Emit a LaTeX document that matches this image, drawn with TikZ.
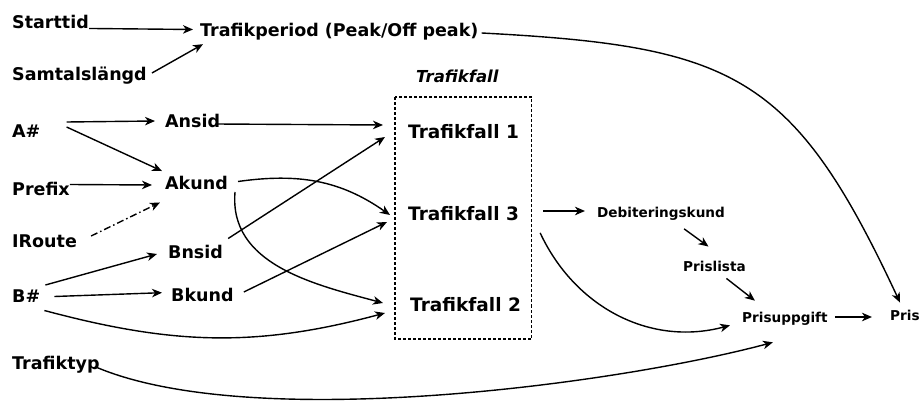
\documentclass[tikz,border=0pt]{standalone}
\usepackage{fontspec}
\setmainfont{DejaVu Sans}
\usetikzlibrary{arrows.meta}

\begin{document}
\begin{tikzpicture}[x=1pt, y=1pt,
          every node/.style={inner sep=0pt, anchor=west, font=\bfseries\fontsize{17.5}{21}\selectfont},
          big/.style={font=\bfseries\fontsize{18.5}{22}\selectfont},
          small/.style={font=\bfseries\fontsize{13.6}{16}\selectfont},
          boxtitle/.style={font=\bfseries\itshape\fontsize{16.5}{20}\selectfont},
          conn/.style={line width=1.4pt, -{Stealth[length=10pt, width=8.5pt, inset=3pt]}},
          dashdot/.style={dash pattern=on 7pt off 3pt on 1.5pt off 3pt},
          boxline/.style={line width=1.3pt, dash pattern=on 3pt off 2pt}]
          \useasboundingbox (0,0) rectangle (921,-403);

          \node (start) at (12,-21.5) {Starttid};
          \node (samtal) at (12,-76) {Samtalslängd};
          \node (period) at (200,-31.5) {Trafikperiod (Peak/Off peak)};
          \node (anr) at (12,-131.5) {A\#};
          \node (prefix) at (12,-188.5) {Prefix};
          \node (iroute) at (12,-241.5) {IRoute};
          \node (bnr) at (12,-296.5) {B\#};
          \node (typ) at (12,-365) {Trafiktyp};
          \node (ansid) at (165,-121) {Ansid};
          \node (akund) at (165,-183) {Akund};
          \node (bnsid) at (168,-251.5) {Bnsid};
          \node (bkund) at (171,-295) {Bkund};

          \node[boxtitle] (falltitle) at (416,-76) {Trafikfall};
          \draw[boxline] (395,-97) rectangle (531.5,-339);
          \node[big] (fall1) at (408,-132) {Trafikfall 1};
          \node[big] (fall3) at (408,-213.5) {Trafikfall 3};
          \node[big] (fall2) at (410,-305) {Trafikfall 2};

          \node[small] (deb) at (597,-214) {Debiteringskund};
          \node[small] (prislista) at (683,-266) {Prislista};
          \node[small] (prisuppg) at (742,-318.5) {Prisuppgift};
          \node[small] (pris) at (890,-315) {Pris};

          \draw[conn] (start.south east) -- ([xshift=-7pt, yshift=2pt]period.west);
          \draw[conn] ([xshift=5pt, yshift=3pt]samtal.east) -- ([xshift=3pt, yshift=-4pt]period.south west);
          \draw[conn] ([xshift=3pt, yshift=-1.5pt]period.east) to[out=-3, in=115, looseness=1.3] ([xshift=10pt, yshift=7pt]pris.north west);

          \draw[conn] ([xshift=26pt, yshift=9.5pt]anr.east) -- ([xshift=-10pt]ansid.west);
          \draw[conn] ([xshift=26pt, yshift=4.5pt]anr.east) -- ([xshift=-3pt, yshift=5pt]akund.north west);
          \draw[conn] ([yshift=4pt]prefix.east) -- ([xshift=-13pt, yshift=-2pt]akund.west);
          \draw[conn, dashdot] ([xshift=14pt, yshift=5.5pt]iroute.east) -- ([xshift=-5pt, yshift=-12.5pt]akund.south west);
          \draw[conn] ([xshift=5pt, yshift=11.5pt]bnr.east) -- ([xshift=-11pt, yshift=-2.5pt]bnsid.west);
          \draw[conn] ([xshift=14pt]bnr.east) -- ([xshift=-9pt, yshift=2.3pt]bkund.west);
          \draw[conn] ([xshift=4pt, yshift=-14pt]bnr.east) to[out=-15, in=195] ([xshift=-25pt, yshift=-8pt]fall2.west);

          \draw[conn] ([xshift=-5pt, yshift=-3pt]ansid.east) -- ([xshift=-25pt, yshift=7pt]fall1.west);
          \draw[conn] ([xshift=5pt, yshift=6pt]bnsid.north east) -- ([xshift=-23pt, yshift=-5pt]fall1.west);
          \draw[conn] ([xshift=10pt, yshift=3pt]bkund.east) -- ([xshift=-21pt, yshift=-8.5pt]fall3.west);
          \draw[conn] ([xshift=10pt, yshift=1.5pt]akund.east) to[out=8, in=145] ([xshift=-18pt, yshift=-1.5pt]fall3.west);
          \draw[conn] ([xshift=7pt, yshift=-9pt]akund.east) to[out=-95, in=165] ([xshift=-27pt, yshift=2pt]fall2.west);

          \draw[conn] ([xshift=24pt, yshift=2.5pt]fall3.east) -- ([xshift=-12pt, yshift=3pt]deb.west);
          \draw[conn] ([xshift=21pt, yshift=-12pt]fall3.south east) to[out=-65, in=195] ([xshift=-12pt]prisuppg.south west);
          \draw[conn] ([xshift=-41pt, yshift=-8pt]deb.south east) -- ([xshift=-6pt, yshift=14pt]prislista.north);
          \draw[conn] ([xshift=12pt, yshift=-7pt]prislista.south) -- ([xshift=-30pt, yshift=11pt]prisuppg.north);
          \draw[conn] ([xshift=7pt, yshift=1.5pt]prisuppg.east) -- ([xshift=-18pt, yshift=-2pt]pris.west);
          \draw[conn] ([xshift=-4pt, yshift=-2pt]typ.east) to[out=-23, in=195, out distance=170pt, in distance=160pt] ([xshift=-12pt, yshift=-17pt]prisuppg.south);
        \end{tikzpicture}
\end{document}
